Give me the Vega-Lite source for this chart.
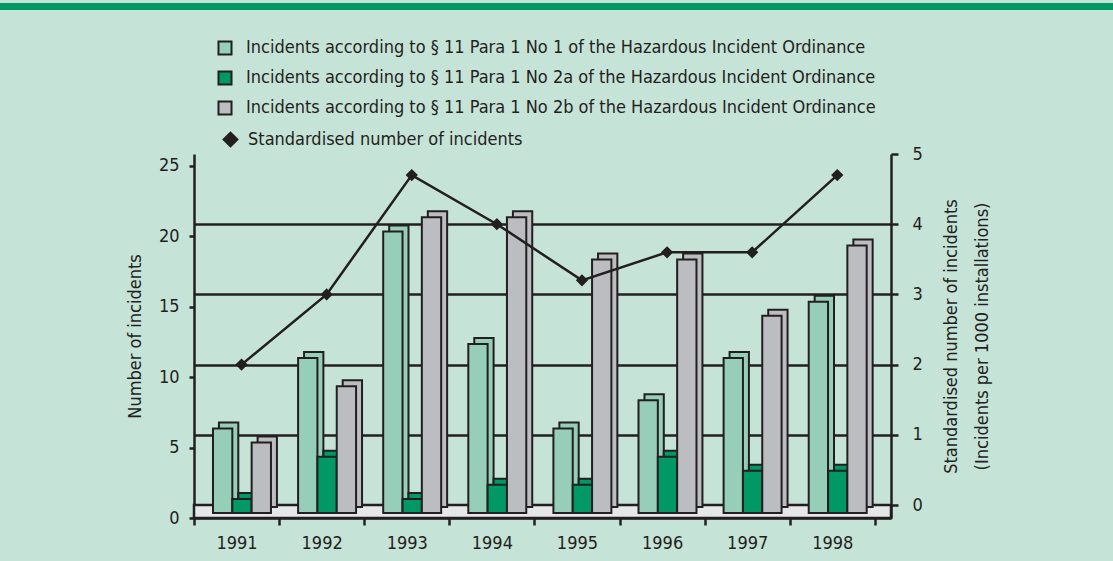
{
  "$schema": "https://vega.github.io/schema/vega-lite/v6.json",
  "background": "#c6e3d8",
  "padding": {"left": 0, "top": 0, "right": 0, "bottom": 12},
  "config": {
    "view": {"stroke": null},
    "font": "DejaVu Sans Condensed, Liberation Sans",
    "axis": {"labelFont": "DejaVu Sans Condensed, Liberation Sans", "titleFont": "DejaVu Sans Condensed, Liberation Sans", "labelColor": "#231f20", "titleColor": "#231f20", "titleFontWeight": "normal", "domainColor": "#231f20", "tickColor": "#231f20", "domainWidth": 2.5, "tickWidth": 2.5, "labelFontSize": 18, "titleFontSize": 18},
    "legend": {"labelFont": "DejaVu Sans Condensed, Liberation Sans", "labelColor": "#231f20", "labelFontSize": 18, "labelLimit": 0, "padding": 0}
  },
  "datasets": {
    "bars": [
      {"year": "1991", "series": "Incidents according to § 11 Para 1 No 1 of the Hazardous Incident Ordinance", "count": 6},
      {"year": "1991", "series": "Incidents according to § 11 Para 1 No 2a of the Hazardous Incident Ordinance", "count": 1},
      {"year": "1991", "series": "Incidents according to § 11 Para 1 No 2b of the Hazardous Incident Ordinance", "count": 5},
      {"year": "1992", "series": "Incidents according to § 11 Para 1 No 1 of the Hazardous Incident Ordinance", "count": 11},
      {"year": "1992", "series": "Incidents according to § 11 Para 1 No 2a of the Hazardous Incident Ordinance", "count": 4},
      {"year": "1992", "series": "Incidents according to § 11 Para 1 No 2b of the Hazardous Incident Ordinance", "count": 9},
      {"year": "1993", "series": "Incidents according to § 11 Para 1 No 1 of the Hazardous Incident Ordinance", "count": 20},
      {"year": "1993", "series": "Incidents according to § 11 Para 1 No 2a of the Hazardous Incident Ordinance", "count": 1},
      {"year": "1993", "series": "Incidents according to § 11 Para 1 No 2b of the Hazardous Incident Ordinance", "count": 21},
      {"year": "1994", "series": "Incidents according to § 11 Para 1 No 1 of the Hazardous Incident Ordinance", "count": 12},
      {"year": "1994", "series": "Incidents according to § 11 Para 1 No 2a of the Hazardous Incident Ordinance", "count": 2},
      {"year": "1994", "series": "Incidents according to § 11 Para 1 No 2b of the Hazardous Incident Ordinance", "count": 21},
      {"year": "1995", "series": "Incidents according to § 11 Para 1 No 1 of the Hazardous Incident Ordinance", "count": 6},
      {"year": "1995", "series": "Incidents according to § 11 Para 1 No 2a of the Hazardous Incident Ordinance", "count": 2},
      {"year": "1995", "series": "Incidents according to § 11 Para 1 No 2b of the Hazardous Incident Ordinance", "count": 18},
      {"year": "1996", "series": "Incidents according to § 11 Para 1 No 1 of the Hazardous Incident Ordinance", "count": 8},
      {"year": "1996", "series": "Incidents according to § 11 Para 1 No 2a of the Hazardous Incident Ordinance", "count": 4},
      {"year": "1996", "series": "Incidents according to § 11 Para 1 No 2b of the Hazardous Incident Ordinance", "count": 18},
      {"year": "1997", "series": "Incidents according to § 11 Para 1 No 1 of the Hazardous Incident Ordinance", "count": 11},
      {"year": "1997", "series": "Incidents according to § 11 Para 1 No 2a of the Hazardous Incident Ordinance", "count": 3},
      {"year": "1997", "series": "Incidents according to § 11 Para 1 No 2b of the Hazardous Incident Ordinance", "count": 14},
      {"year": "1998", "series": "Incidents according to § 11 Para 1 No 1 of the Hazardous Incident Ordinance", "count": 15},
      {"year": "1998", "series": "Incidents according to § 11 Para 1 No 2a of the Hazardous Incident Ordinance", "count": 3},
      {"year": "1998", "series": "Incidents according to § 11 Para 1 No 2b of the Hazardous Incident Ordinance", "count": 19}
    ],
    "rate": [
      {"year": "1991", "metric": "Standardised number of incidents", "rate": 2.0},
      {"year": "1992", "metric": "Standardised number of incidents", "rate": 3.0},
      {"year": "1993", "metric": "Standardised number of incidents", "rate": 4.7},
      {"year": "1994", "metric": "Standardised number of incidents", "rate": 4.0},
      {"year": "1995", "metric": "Standardised number of incidents", "rate": 3.2},
      {"year": "1996", "metric": "Standardised number of incidents", "rate": 3.6},
      {"year": "1997", "metric": "Standardised number of incidents", "rate": 3.6},
      {"year": "1998", "metric": "Standardised number of incidents", "rate": 4.7}
    ]
  },
  "bounds": "flush",
  "spacing": 144,
  "vconcat": [
    {
      "width": 1113,
      "height": 7,
      "view": {"fill": "#009966", "stroke": null},
      "data": {"values": [{}]},
      "mark": {"type": "text", "text": ""}
    },
    {
      "bounds": "flush",
      "spacing": 0,
      "hconcat": [
        {
          "width": 194,
          "height": 364,
          "data": {"values": [{}]},
          "mark": {"type": "text", "text": ""}
        },
        {
          "width": 697,
          "height": 364,
          "layer": [
            {
              "data": {"values": [{"floor": "floor"}]},
              "mark": {"type": "rect", "color": "#e6e7e9", "stroke": "#231f20", "strokeWidth": 2.5},
              "encoding": {
                "y": {"datum": 0, "type": "quantitative", "scale": {"domain": [-0.185, 5], "nice": false, "zero": false}, "axis": null},
                "y2": {"datum": -0.185}
              }
            },
            {
              "data": {"name": "bars"},
              "encoding": {
                "x": {"field": "year", "type": "ordinal", "title": null,
                  "scale": {"type": "band", "paddingInner": 0, "paddingOuter": 0.095, "align": 0},
                  "axis": {"tickBand": "extent", "labelAngle": 0, "tickSize": 7, "labelPadding": 9, "domain": true}},
                "y": {"field": "count", "type": "quantitative",
                  "scale": {"domain": [0, 25.85], "nice": false, "zero": false},
                  "axis": {"orient": "left", "values": [0, 5, 10, 15, 20, 25], "grid": false, "tickSize": 5, "labelPadding": 10, "title": "Number of incidents", "titlePadding": 14}},
                "color": {"field": "series", "type": "nominal",
                  "scale": {"range": ["#97ceb9", "#009966", "#bcbdc1"]},
                  "legend": {"orient": "none", "legendX": 216, "legendY": 36, "title": null, "symbolType": "square", "symbolSize": 170, "symbolStrokeColor": "#231f20", "symbolStrokeWidth": 2, "rowPadding": 8, "labelOffset": 12}}
              },
              "layer": [
                {"mark": {"type": "bar", "yOffset": -11, "stroke": "#231f20", "strokeWidth": 2},
                 "encoding": {"xOffset": {"field": "series", "type": "nominal", "scale": {"paddingInner": 0, "paddingOuter": 0.702, "align": 0.92}}}},
                {"mark": {"type": "bar", "yOffset": -5, "stroke": "#231f20", "strokeWidth": 2},
                 "encoding": {"xOffset": {"field": "series", "type": "nominal", "scale": {"paddingInner": 0, "paddingOuter": 0.702, "align": 0.7}}}}
              ],
              "resolve": {"scale": {"xOffset": "independent"}}
            },
            {
              "data": {"name": "rate"},
              "encoding": {
                "x": {"field": "year", "type": "ordinal"},
                "y": {"field": "rate", "type": "quantitative",
                  "scale": {"domain": [-0.185, 5], "nice": false, "zero": false},
                  "axis": {"orient": "right", "values": [0, 1, 2, 3, 4, 5], "grid": true, "gridColor": "#231f20", "gridWidth": 2.5,
                    "gridOpacity": {"condition": {"test": "datum.value == 5", "value": 0}, "value": 1},
                    "tickSize": 7, "labelPadding": 14,
                    "title": ["Standardised number of incidents", "(Incidents per 1000 installations)"],
                    "titleAngle": -90, "titleLineHeight": 31, "titlePadding": 7}}
              },
              "layer": [
                {"mark": {"type": "line", "color": "#231f20", "strokeWidth": 2.5, "xOffset": 5}},
                {"mark": {"type": "point", "filled": true, "shape": "diamond", "size": 150, "color": "#231f20", "opacity": 1, "xOffset": 5},
                 "encoding": {"shape": {"field": "metric", "type": "nominal", "scale": {"range": ["diamond"]},
                   "legend": {"orient": "none", "legendX": 221, "legendY": 127, "title": null, "symbolSize": 280, "symbolFillColor": "#231f20", "symbolStrokeColor": "#231f20", "labelOffset": 8}}}}
              ]
            }
          ],
          "resolve": {"scale": {"y": "independent"}}
        }
      ]
    }
  ]
}
